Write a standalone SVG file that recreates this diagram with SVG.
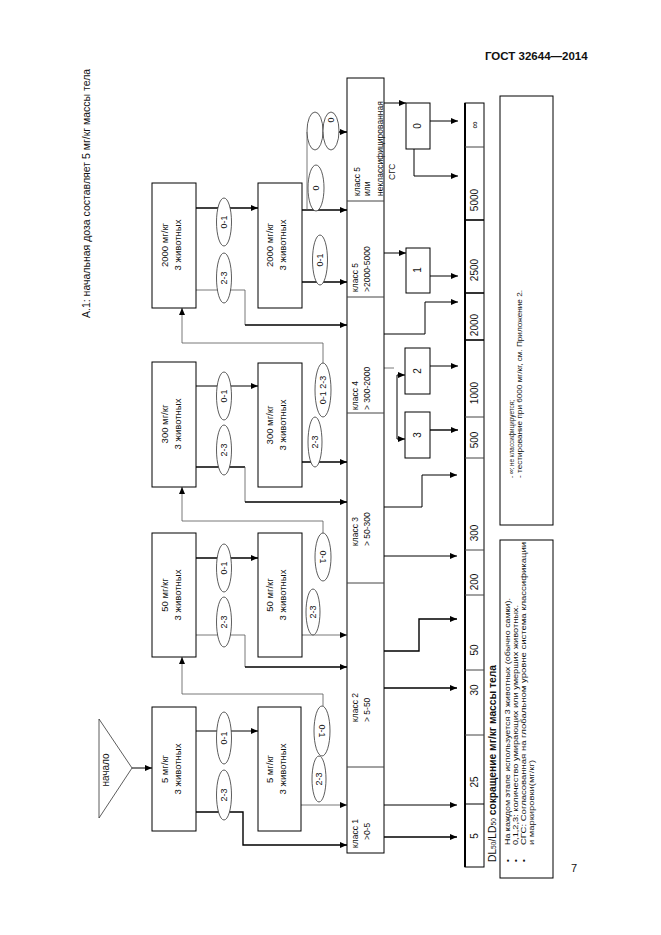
<svg xmlns="http://www.w3.org/2000/svg" width="661" height="935" viewBox="0 0 661 935">
<defs>
<marker id="ar" markerWidth="7" markerHeight="6" refX="7" refY="3" orient="auto" markerUnits="userSpaceOnUse">
<path d="M0,0 L7,3 L0,6 z" fill="#000"/>
</marker>
<style>
.t{font-family:"Liberation Sans",Arial,sans-serif;fill:#111}
.bx{fill:#fff;stroke:#000;stroke-width:1}
.el{fill:#fff;stroke:#333;stroke-width:0.8}
.ln{fill:none;stroke:#000;stroke-width:1}
.lb{fill:none;stroke:#000;stroke-width:1.4}
.lg{fill:none;stroke:#555;stroke-width:0.8}
.a{marker-end:url(#ar)}
.bt{font-size:9.5px}
.et{font-size:9px}
.ct{font-size:8.5px}
.nt{font-size:10px}
.lt{font-size:8px}
</style>
</defs>
<rect width="661" height="935" fill="#fff"/>
<text class="t" x="485" y="60" font-size="11.5" font-weight="bold">ГОСТ 32644—2014</text>
<text class="t" x="571" y="872" font-size="11">7</text>
<text class="t" font-size="10.5" transform="translate(90 318) rotate(-90)">А.1: начальная доза составляет 5 мг/кг массы тела</text>

<g id="start">
<polygon points="99,719 99,818 132,768" fill="#fff" stroke="#333" stroke-width="0.8"/>
<text class="t" font-size="10" text-anchor="middle" transform="translate(109 770) rotate(-90)">начало</text>
</g>

<g id="connectors">
<line class="ln a" x1="132" y1="768" x2="152" y2="768"/>
<line class="ln a" x1="196" y1="731" x2="258" y2="731"/>
<polyline class="lb a" points="196,812 243,812 243,845 347,845"/>
<line class="lg a" x1="301" y1="805" x2="347" y2="805"/>
<polyline class="lg a" points="323,706 323,694 182,694 182,657"/>
<line class="lb a" x1="196" y1="558" x2="258" y2="558"/>
<polyline class="lg" points="196,635 245,635 245,667"/>
<line class="lb a" x1="245" y1="667" x2="347" y2="667"/>
<line class="lg a" x1="302" y1="635" x2="347" y2="635"/>
<polyline class="lg a" points="323,533 323,521 182,521 182,487"/>
<line class="ln a" x1="196" y1="386" x2="258" y2="386"/>
<polyline class="lb" points="196,467 245,467"/>
<polyline class="lg" points="245,467 245,502"/>
<line class="lb a" x1="245" y1="502" x2="347" y2="502"/>
<line class="lb a" x1="302" y1="462" x2="347" y2="462"/>
<polyline class="lg a" points="323,363 323,343 182,343 182,308"/>
<line class="lb a" x1="196" y1="208" x2="258" y2="208"/>
<polyline class="lg" points="196,290 245,290 245,325"/>
<line class="lb a" x1="245" y1="325" x2="347" y2="325"/>
<line class="lb a" x1="302" y1="282" x2="347" y2="282"/>
<line class="lb a" x1="302" y1="210" x2="347" y2="210"/>
<polyline class="lg" points="307,210 307,132"/>
<line class="lb a" x1="307" y1="132" x2="347" y2="132"/>
<line class="lb a" x1="384" y1="837" x2="457" y2="837"/>
<line class="ln a" x1="384" y1="805" x2="457" y2="805"/>
<line class="lb a" x1="384" y1="688" x2="457" y2="688"/>
<polyline class="lb a" points="384,651 419,651 419,619 457,619"/>
<line class="ln a" x1="384" y1="556" x2="457" y2="556"/>
<polyline class="ln a" points="384,507 422,507 422,475 457,475"/>
<line class="lg" x1="384" y1="368" x2="394" y2="368"/>
<line class="ln a" x1="397" y1="375" x2="405" y2="375"/>
<line class="ln" x1="397" y1="375" x2="397" y2="439"/>
<line class="ln a" x1="397" y1="439" x2="405" y2="439"/>
<line class="ln a" x1="430" y1="366" x2="458" y2="366"/>
<line class="lb a" x1="430" y1="430" x2="458" y2="430"/>
<polyline class="ln a" points="384,334 425,334 425,302 458,302"/>
<line class="ln a" x1="384" y1="253" x2="406" y2="253"/>
<line class="ln a" x1="430" y1="276" x2="458" y2="276"/>
<line class="ln a" x1="384" y1="103" x2="406" y2="103"/>
<line class="ln a" x1="430" y1="121" x2="458" y2="121"/>
<polyline class="ln a" points="414,149 414,176 458,176"/>
</g>

<g id="ellipses">
<ellipse class="el" cx="224" cy="738" rx="7.5" ry="26"/>
<ellipse class="el" cx="224" cy="795" rx="7.5" ry="25"/>
<ellipse class="el" cx="322" cy="731" rx="8" ry="25"/>
<ellipse class="el" cx="319" cy="779" rx="7" ry="23"/>
<ellipse class="el" cx="224" cy="568" rx="7.5" ry="24"/>
<ellipse class="el" cx="224" cy="622" rx="7.5" ry="25"/>
<ellipse class="el" cx="323" cy="557" rx="8" ry="24"/>
<ellipse class="el" cx="313" cy="612" rx="7" ry="23"/>
<ellipse class="el" cx="224" cy="396" rx="7.5" ry="24"/>
<ellipse class="el" cx="224" cy="450" rx="7.5" ry="25"/>
<ellipse class="el" cx="323" cy="390" rx="8" ry="27"/>
<ellipse class="el" cx="315" cy="442" rx="7" ry="25"/>
<ellipse class="el" cx="224" cy="222" rx="7.5" ry="24"/>
<ellipse class="el" cx="224" cy="278" rx="7.5" ry="25"/>
<ellipse class="el" cx="316" cy="188" rx="8" ry="23"/>
<ellipse class="el" cx="320" cy="260" rx="7.5" ry="25"/>
<ellipse class="el" cx="315" cy="131" rx="8" ry="19" fill="none"/>
<ellipse class="el" cx="331" cy="131" rx="8" ry="19" fill="none"/>
<g class="t et" text-anchor="middle">
<text transform="translate(227 738) rotate(-90)">0-1</text>
<text transform="translate(227 795) rotate(-90)">2-3</text>
<text transform="translate(319 731) rotate(90)">0-1</text>
<text transform="translate(322 779) rotate(-90)">2-3</text>
<text transform="translate(227 568) rotate(-90)">0-1</text>
<text transform="translate(227 622) rotate(-90)">2-3</text>
<text transform="translate(320 557) rotate(90)">0-1</text>
<text transform="translate(316 612) rotate(-90)">2-3</text>
<text transform="translate(227 396) rotate(-90)">0-1</text>
<text transform="translate(227 450) rotate(-90)">2-3</text>
<text transform="translate(326 390) rotate(-90)">0-1 2-3</text>
<text transform="translate(318 442) rotate(-90)">2-3</text>
<text transform="translate(227 222) rotate(-90)">0-1</text>
<text transform="translate(227 278) rotate(-90)">2-3</text>
<text transform="translate(319 188) rotate(-90)">0</text>
<text transform="translate(323 260) rotate(-90)">0-1</text>
<text transform="translate(334 120) rotate(-90)">0</text>
</g>
</g>

<g id="b5a"><rect class="bx" x="152" y="707" width="44" height="124"/>
<text class="t bt" text-anchor="middle" transform="translate(168 769) rotate(-90)">5 мг/кг</text>
<text class="t bt" text-anchor="middle" transform="translate(181 769) rotate(-90)">3 животных</text></g>
<g id="b5b"><rect class="bx" x="258" y="707" width="43" height="124"/>
<text class="t bt" text-anchor="middle" transform="translate(273 769) rotate(-90)">5 мг/кг</text>
<text class="t bt" text-anchor="middle" transform="translate(286 769) rotate(-90)">3 животных</text></g>
<g id="b50a"><rect class="bx" x="152" y="533" width="44" height="124"/>
<text class="t bt" text-anchor="middle" transform="translate(168 595) rotate(-90)">50 мг/кг</text>
<text class="t bt" text-anchor="middle" transform="translate(181 595) rotate(-90)">3 животных</text></g>
<g id="b50b"><rect class="bx" x="258" y="533" width="44" height="124"/>
<text class="t bt" text-anchor="middle" transform="translate(273 595) rotate(-90)">50 мг/кг</text>
<text class="t bt" text-anchor="middle" transform="translate(286 595) rotate(-90)">3 животных</text></g>
<g id="b300a"><rect class="bx" x="152" y="362" width="44" height="125"/>
<text class="t bt" text-anchor="middle" transform="translate(168 424) rotate(-90)">300 мг/кг</text>
<text class="t bt" text-anchor="middle" transform="translate(181 424) rotate(-90)">3 животных</text></g>
<g id="b300b"><rect class="bx" x="258" y="363" width="44" height="124"/>
<text class="t bt" text-anchor="middle" transform="translate(273 425) rotate(-90)">300 мг/кг</text>
<text class="t bt" text-anchor="middle" transform="translate(286 425) rotate(-90)">3 животных</text></g>
<g id="b2000a"><rect class="bx" x="152" y="183" width="44" height="125"/>
<text class="t bt" text-anchor="middle" transform="translate(168 245) rotate(-90)">2000 мг/кг</text>
<text class="t bt" text-anchor="middle" transform="translate(181 245) rotate(-90)">3 животных</text></g>
<g id="b2000b"><rect class="bx" x="258" y="183" width="44" height="125"/>
<text class="t bt" text-anchor="middle" transform="translate(273 245) rotate(-90)">2000 мг/кг</text>
<text class="t bt" text-anchor="middle" transform="translate(286 245) rotate(-90)">3 животных</text></g>

<g id="classes">
<rect class="bx" x="347" y="78" width="37" height="775" stroke="#444"/>
<g stroke="#444" stroke-width="1"><line x1="347" y1="201" x2="384" y2="201"/><line x1="347" y1="297" x2="384" y2="297"/><line x1="347" y1="413" x2="384" y2="413"/><line x1="347" y1="583" x2="384" y2="583"/><line x1="347" y1="767" x2="384" y2="767"/></g>
<g class="t ct">
<text transform="translate(360 196) rotate(-90)">класс 5</text>
<text transform="translate(370 196) rotate(-90)">или</text>
<text transform="translate(383 196) rotate(-90)">неклассифицированная</text>
<text transform="translate(395 180) rotate(-90)">СГС</text>
<text transform="translate(358 292) rotate(-90)">класс 5</text>
<text transform="translate(370 292) rotate(-90)">&gt;2000-5000</text>
<text transform="translate(358 410) rotate(-90)">класс 4</text>
<text transform="translate(370 410) rotate(-90)">&gt; 300-2000</text>
<text transform="translate(358 546) rotate(-90)">класс 3</text>
<text transform="translate(370 546) rotate(-90)">&gt; 50-300</text>
<text transform="translate(358 722) rotate(-90)">класс 2</text>
<text transform="translate(370 722) rotate(-90)">&gt;  5-50</text>
<text transform="translate(358 848) rotate(-90)">класс 1</text>
<text transform="translate(370 840) rotate(-90)">&gt;0-5</text>
</g>
</g>

<g id="results">
<rect class="bx" x="406" y="103" width="24" height="46"/>
<text class="t nt" text-anchor="middle" transform="translate(421 126) rotate(-90)">0</text>
<rect class="bx" x="406" y="248" width="24" height="45"/>
<text class="t nt" text-anchor="middle" transform="translate(421 270) rotate(-90)">1</text>
<rect class="bx" x="405" y="348" width="25" height="46"/>
<text class="t nt" text-anchor="middle" transform="translate(421 371) rotate(-90)">2</text>
<rect class="bx" x="405" y="412" width="25" height="46"/>
<text class="t nt" text-anchor="middle" transform="translate(421 435) rotate(-90)">3</text>
</g>

<g id="table">
<rect x="465" y="103" width="19" height="764" fill="#fff" stroke="#000" stroke-width="1"/>
<line x1="465" y1="103" x2="465" y2="867" stroke="#000" stroke-width="2"/>
<g stroke="#444" stroke-width="1">
<line x1="465" y1="147" x2="484" y2="147"/><line x1="465" y1="220" x2="484" y2="220" stroke="#000" stroke-width="1.6"/><line x1="465" y1="293" x2="484" y2="293" stroke="#000" stroke-width="1.6"/><line x1="465" y1="340" x2="484" y2="340" stroke="#000" stroke-width="1.6"/><line x1="465" y1="417" x2="484" y2="417"/><line x1="465" y1="458" x2="484" y2="458"/><line x1="465" y1="550" x2="484" y2="550"/><line x1="465" y1="595" x2="484" y2="595"/><line x1="465" y1="670" x2="484" y2="670"/><line x1="465" y1="735" x2="484" y2="735"/><line x1="465" y1="804" x2="484" y2="804" stroke="#000"/>
</g>
<g class="t nt" text-anchor="middle">
<text transform="translate(478 125) rotate(-90)">∞</text>
<text transform="translate(478 200) rotate(-90)">5000</text>
<text transform="translate(478 270) rotate(-90)">2500</text>
<text transform="translate(478 325) rotate(-90)">2000</text>
<text transform="translate(478 393) rotate(-90)">1000</text>
<text transform="translate(478 440) rotate(-90)">500</text>
<text transform="translate(478 533) rotate(-90)">300</text>
<text transform="translate(478 582) rotate(-90)">200</text>
<text transform="translate(478 650) rotate(-90)">50</text>
<text transform="translate(478 690) rotate(-90)">30</text>
<text transform="translate(478 782) rotate(-90)">25</text>
<text transform="translate(478 836) rotate(-90)">5</text>
</g>
<text class="t" font-size="10" textLength="197" lengthAdjust="spacingAndGlyphs" transform="translate(496 862) rotate(-90)">DL<tspan font-size="6.5">50</tspan>/LD<tspan font-size="6.5">50</tspan> <tspan font-weight="bold">сокращение мг/кг массы тела</tspan></text>
</g>

<g id="legend1">
<rect x="500" y="540" width="53" height="338" fill="#fff" stroke="#000" stroke-width="1"/>
<g class="t lt">
<text transform="translate(510 862) rotate(-90)">•</text>
<text transform="translate(518 862) rotate(-90)">•</text>
<text transform="translate(526 862) rotate(-90)">•</text>
<text transform="translate(510 845) rotate(-90)" textLength="247" lengthAdjust="spacingAndGlyphs">На каждом этапе используется 3 животных (обычно самки).</text>
<text transform="translate(518 845) rotate(-90)" textLength="240" lengthAdjust="spacingAndGlyphs">0,1,2,3: количество умирающих или умерших животных.</text>
<text transform="translate(526 845) rotate(-90)" textLength="303" lengthAdjust="spacingAndGlyphs">СГС: Согласованная на глобальном уровне система классификации</text>
<text transform="translate(534 845) rotate(-90)" textLength="85" lengthAdjust="spacingAndGlyphs">и маркировки(мг/кг)</text>
</g>
</g>

<g id="legend2">
<rect x="500" y="96" width="53" height="429" fill="#fff" stroke="#000" stroke-width="1"/>
<g class="t lt">
<text transform="translate(514 478) rotate(-90)" textLength="78" lengthAdjust="spacingAndGlyphs">- ∞: не классифицируется;</text>
<text transform="translate(522 478) rotate(-90)" textLength="188" lengthAdjust="spacingAndGlyphs">- тестирование при 6000 мг/кг, см. Приложение 2.</text>
</g>
</g>
</svg>
